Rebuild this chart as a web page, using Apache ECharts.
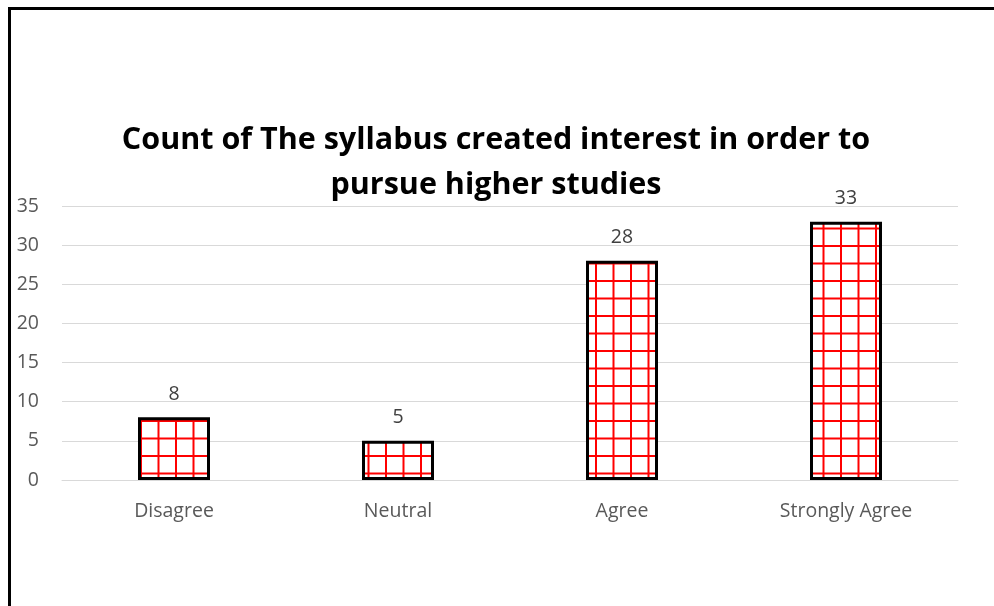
<!DOCTYPE html>
<html>
<head>
<meta charset="utf-8">
<title>Count of The syllabus created interest</title>
<script src="https://cdn.jsdelivr.net/npm/echarts@6/dist/echarts.min.js"></script>
<style>
  html, body { margin: 0; padding: 0; background: #fff; }
  #chart { width: 994px; height: 606px; }
</style>
</head>
<body>
<div id="chart"></div>
<script>
  // data
  const categories = ["Disagree", "Neutral", "Agree", "Strongly Agree"];
  const counts = [8, 5, 28, 33];
  const yTicks = [0, 5, 10, 15, 20, 25, 30, 35];

  // red grid hatch, like the Excel "large grid" pattern fill
  function gridPattern() {
    const c = document.createElement("canvas");
    c.width = 35; c.height = 35;
    const g = c.getContext("2d");
    g.fillStyle = "#fff"; g.fillRect(0, 0, 35, 35);
    g.fillStyle = "#ff0000";
    [0, 17.5].forEach((p) => {
      g.fillRect(p, 0, 2, 35);
      g.fillRect(0, p, 35, 2);
    });
    return c;
  }

  const chart = echarts.init(document.getElementById("chart"), null, { renderer: "canvas" });
  chart.setOption({
    animation: false,
    title: {
      text: "Count of The syllabus created interest in order to\npursue higher studies",
      left: 491, top: 113, textAlign: "center",
      textStyle: { fontFamily: "Open Sans", fontWeight: "bold", fontSize: 30.5, color: "#000", lineHeight: 45 },
    },
    graphic: [{
      type: "rect", silent: true,
      shape: { x: 9.5, y: 8.5, width: 1000, height: 700 },
      style: { fill: "none", stroke: "#000", lineWidth: 3 },
    }],
    grid: { left: 62, right: 36, top: 206, bottom: 126 },
    xAxis: {
      type: "category", data: categories,
      axisTick: { show: false },
      axisLine: { lineStyle: { color: "#d9d9d9", width: 1 } },
      axisLabel: { color: "#595959", fontSize: 19.5, fontFamily: "Open Sans", margin: 21 },
    },
    yAxis: {
      type: "value", min: 0, max: 35, interval: 5,
      axisLine: { show: false }, axisTick: { show: false },
      splitLine: { lineStyle: { color: "#d9d9d9", width: 1 } },
      axisLabel: {
        color: "#595959", fontSize: 19.5, fontFamily: "Open Sans", margin: 23,
        formatter: (v) => (yTicks.includes(v) ? String(v) : ""),
      },
    },
    series: [{
      type: "bar", data: counts, barWidth: 72,
      itemStyle: { color: { image: gridPattern(), repeat: "repeat" }, borderColor: "#000", borderWidth: 3 },
      label: { show: true, position: "top", distance: 13, color: "#404040", fontSize: 19.5, fontFamily: "Open Sans" },
    }],
  });
</script>
</body>
</html>
